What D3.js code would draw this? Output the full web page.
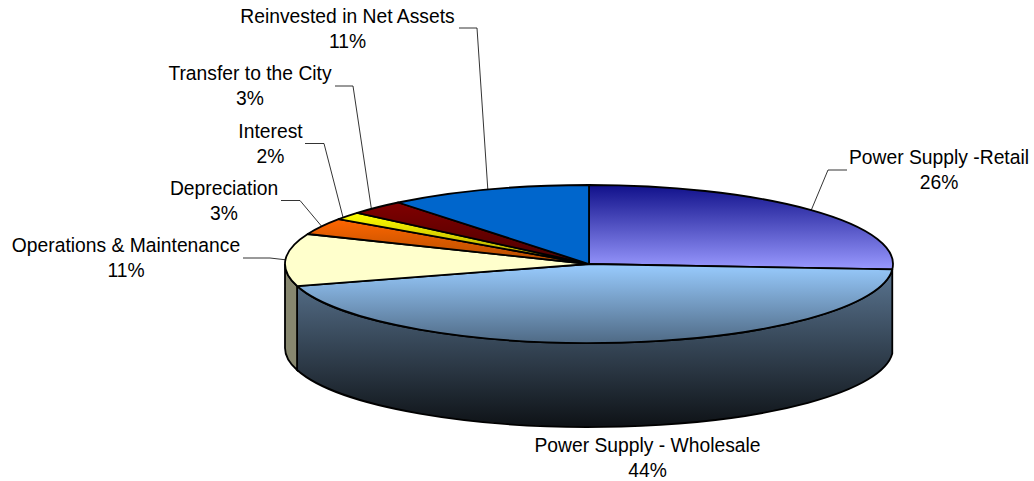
<!DOCTYPE html>
<html>
<head>
<meta charset="utf-8">
<script src="https://cdnjs.cloudflare.com/ajax/libs/d3/7.8.5/d3.min.js"></script>
<style>
  html, body { margin: 0; padding: 0; background: #fff; overflow: hidden; }
  text { font-family: "Liberation Sans", Arial, sans-serif; font-size: 19.3px; fill: #000; }
</style>
</head>
<body>
<div id="graph"></div>
<script>
// values
let categories = ["Power Supply -Retail", "Power Supply - Wholesale", "Operations & Maintenance", "Depreciation", "Interest", "Transfer to the City", "Reinvested in Net Assets"];
let shares = [26.1, 44.4, 10.7, 3.4, 1.6, 3.0, 10.8];

let svgWidth = 1034;
let svgHeight = 481;

let cx = 589, cy = 264;
let rx = 304, ry = 79, depth = 84;

// top colour, bottom colour of every slice
let topColors = ["#10108a", "#99ccff", "#ffffcc", "#ff6600", "#ffff00", "#800000", "#0066cc"];
let bottomColors = ["#9999ff", "#4f6a85", "#ffffcc", "#b04c00", "#a89a00", "#4a0000", "#0066cc"];

// where the label sits and the elbow of its leader, nudge moves the leader end along the rim
let labelPos = [
  { x: 939, y: 164, leader: [[847, 170], [828, 170]], nudge: 0 },
  { x: 647.5, y: 452, leader: [], nudge: 0 },
  { x: 126, y: 252, leader: [[243, 258], [270, 258]], nudge: 0 },
  { x: 224, y: 195, leader: [[281, 200.5], [300, 200.5]], nudge: 0 },
  { x: 270.5, y: 138, leader: [[305, 143.5], [324, 143.5]], nudge: -0.025 },
  { x: 250, y: 80, leader: [[335, 86], [353, 86]], nudge: -0.025 },
  { x: 347.5, y: 23, leader: [[459, 28], [477, 28]], nudge: 0 }
];

var svg = d3.select("#graph").append("svg")
  .attr("width", svgWidth)
  .attr("height", svgHeight);

var defs = svg.append("defs");

var pie = d3.pie().sort(null).value(d => d);
var slices = pie(shares);

function gradient(id, c0, c1) {
  var g = defs.append("linearGradient").attr("id", id)
    .attr("x1", 0).attr("y1", 0).attr("x2", 0).attr("y2", 1);
  g.append("stop").attr("offset", 0).attr("stop-color", c0);
  g.append("stop").attr("offset", 1).attr("stop-color", c1);
}
slices.forEach((s, i) => gradient("g" + i, topColors[i], bottomColors[i]));
gradient("wall", "#5a7591", "#0e1216");

// point on the rim for a pie angle
function rim(a, dy) {
  return [cx + rx * Math.sin(a), cy - ry * Math.cos(a) + (dy || 0)];
}

function wallPath(a0, a1) {
  var p0 = rim(a0), p1 = rim(a1), p2 = rim(a1, depth), p3 = rim(a0, depth);
  return `M${p0}A${rx},${ry} 0 0 1 ${p1}L${p2}A${rx},${ry} 0 0 0 ${p3}Z`;
}

// side walls, only the part of the rim facing us
var chart = svg.append("g");
chart.append("path")
  .attr("d", wallPath(slices[1].startAngle, slices[1].endAngle))
  .attr("fill", "url(#wall)").attr("stroke", "#000").attr("stroke-width", 1.8);
chart.append("path")
  .attr("d", wallPath(slices[2].startAngle, 1.5 * Math.PI))
  .attr("fill", "#87876f").attr("stroke", "#000").attr("stroke-width", 1.8);

// top face
var arc = d3.arc().innerRadius(0).outerRadius(rx);
chart.selectAll(".slice")
  .data(slices)
  .enter().append("path")
  .attr("class", "slice")
  .attr("d", arc)
  .attr("transform", `translate(${cx},${cy}) scale(1,${ry / rx})`)
  .attr("fill", (d, i) => `url(#g${i})`)
  .attr("stroke", "#000")
  .attr("stroke-width", 1.8)
  .attr("stroke-linejoin", "round")
  .style("vector-effect", "non-scaling-stroke");

// leaders
var line = d3.line();
slices.forEach((s, i) => {
  var leader = labelPos[i].leader;
  if (!leader.length) return;
  var mid = (s.startAngle + s.endAngle) / 2 + labelPos[i].nudge;
  svg.append("path")
    .attr("d", line(leader.concat([rim(mid)])))
    .attr("fill", "none")
    .attr("stroke", "#000")
    .attr("stroke-width", 0.8);
});

// labels
categories.forEach((c, i) => {
  svg.append("text").attr("text-anchor", "middle")
    .attr("x", labelPos[i].x).attr("y", labelPos[i].y)
    .text(c);
  svg.append("text").attr("text-anchor", "middle")
    .attr("x", labelPos[i].x).attr("y", labelPos[i].y + 24.5)
    .text(Math.round(shares[i]) + "%");
});
</script>
</body>
</html>
